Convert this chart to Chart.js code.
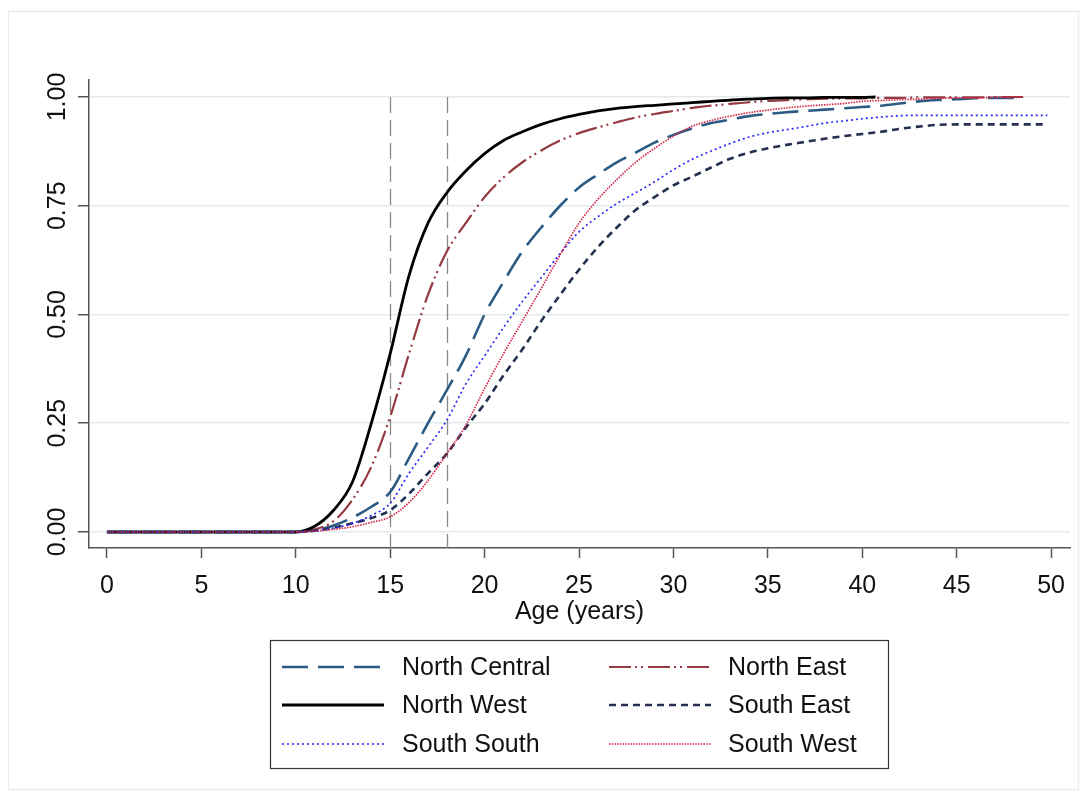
<!DOCTYPE html>
<html>
<head>
<meta charset="utf-8">
<title>Cumulative proportion by age and zone</title>
<script src="https://cdn.jsdelivr.net/npm/chart.js@4.4.1/dist/chart.umd.min.js"></script>
<style>
  html, body { margin: 0; padding: 0; background: #fff; }
  #wrap { position: relative; width: 1085px; height: 796px; }
</style>
</head>
<body>
<div id="wrap"><canvas id="cdfChart" width="1085" height="796"></canvas></div>
<script>
// --- data ---
const ages = [0, 10, 11, 12, 13, 14, 15, 16, 17, 18, 19, 20, 21, 22, 23, 24, 25, 26, 27, 28, 29, 30,
              31, 32, 33, 34, 35, 36, 37, 38, 39, 40, 41, 42, 43, 44, 45, 46, 47, 48, 49, 50];

const northCentral = [0, 0, 0.004, 0.015, 0.033, 0.058, 0.092, 0.17, 0.25, 0.326, 0.405, 0.50, 0.575, 0.645, 0.70, 0.75, 0.792, 0.822, 0.85, 0.872, 0.895, 0.913,
                      0.928, 0.94, 0.948, 0.956, 0.961, 0.965, 0.968, 0.971, 0.974, 0.977, 0.98, 0.985, 0.99, 0.993, 0.995, 0.997, 0.998, 0.998, 0.999, null];
const northEast = [0, 0, 0.006, 0.025, 0.074, 0.15, 0.265, 0.41, 0.545, 0.645, 0.71, 0.77, 0.815, 0.85, 0.877, 0.9, 0.917, 0.93, 0.942, 0.953, 0.961, 0.968,
                   0.975, 0.98, 0.984, 0.988, 0.991, 0.993, 0.995, 0.996, 0.997, 0.997, 0.998, 0.998, 0.999, 0.999, 0.999, 0.999, 1.0, 1.0, 1.0, null];
const northWest = [0, 0, 0.013, 0.05, 0.115, 0.25, 0.41, 0.59, 0.71, 0.78, 0.83, 0.87, 0.90, 0.92, 0.937, 0.95, 0.96, 0.968, 0.974, 0.978, 0.981, 0.984,
                   0.987, 0.99, 0.993, 0.995, 0.997, 0.998, 0.998, 0.999, 0.999, 0.999, 1.0, null, null, null, null, null, null, null, null, null];
const southEast = [0, 0, 0.003, 0.01, 0.02, 0.032, 0.05, 0.088, 0.135, 0.18, 0.24, 0.295, 0.36, 0.42, 0.485, 0.545, 0.603, 0.655, 0.70, 0.74, 0.77, 0.797,
                   0.817, 0.838, 0.858, 0.872, 0.882, 0.89, 0.897, 0.904, 0.91, 0.915, 0.92, 0.927, 0.932, 0.936, 0.937, 0.937, 0.937, 0.937, 0.937, 0.937];
const southSouth = [0, 0, 0.003, 0.009, 0.02, 0.038, 0.066, 0.135, 0.195, 0.257, 0.34, 0.405, 0.47, 0.53, 0.585, 0.64, 0.69, 0.725, 0.755, 0.78, 0.805, 0.833,
                    0.857, 0.876, 0.893, 0.908, 0.918, 0.925, 0.932, 0.94, 0.945, 0.95, 0.954, 0.957, 0.958, 0.958, 0.958, 0.958, 0.958, 0.958, 0.958, 0.958];
const southWest = [0, 0, 0.002, 0.006, 0.012, 0.022, 0.035, 0.068, 0.118, 0.18, 0.245, 0.33, 0.41, 0.485, 0.56, 0.637, 0.71, 0.765, 0.81, 0.85, 0.882, 0.91,
                   0.933, 0.946, 0.956, 0.964, 0.97, 0.975, 0.979, 0.982, 0.985, 0.99, 0.992, 0.994, 0.995, 0.997, 0.998, 0.998, 0.999, 0.999, 1.0, null];

const zoneNames = ['North Central', 'North East', 'North West', 'South East', 'South South', 'South West'];
const zoneValues = [northCentral, northEast, northWest, southEast, southSouth, southWest];
const endAges = [48.5, 48.7, 40.7, 49.8, 49.8, 48.5]; // last observed age per zone
const refAges = [15, 18];
const yTickValues = [0, 0.25, 0.5, 0.75, 1];

// --- styles ---
const FONT = "'Liberation Sans', Arial, Helvetica, sans-serif";
const zoneStyles = [
  { color: '#2b5b84', dash: [26, 10], width: 2.6 },
  { color: '#953a40', dash: [22, 4, 2, 4, 2, 5], width: 2.2 },
  { color: '#000000', dash: [], width: 2.8 },
  { color: '#24304f', dash: [7, 5], width: 2.6 },
  { color: '#2a2aff', dash: [2, 3], width: 1.7 },
  { color: '#d42848', dash: [1.5, 1.2], width: 1.7 }
];

function toPoints(values, endAge) {
  const pts = [];
  let last = 0;
  values.forEach((v, i) => {
    if (v === null) return;
    last = v;
    if (ages[i] < endAge) pts.push({ x: ages[i], y: v });
  });
  pts.push({ x: endAge, y: last });
  return pts;
}

const datasets = zoneNames.map((name, i) => ({
  label: name,
  data: toPoints(zoneValues[i], endAges[i]),
  borderColor: zoneStyles[i].color,
  borderDash: zoneStyles[i].dash,
  borderWidth: zoneStyles[i].width,
  pointRadius: 0,
  cubicInterpolationMode: 'monotone',
  fill: false,
  order: zoneNames.length - i
}));

// light frame round the graph region
const framePlugin = {
  id: 'frame',
  beforeDraw(chart) {
    const ctx = chart.ctx;
    ctx.save();
    ctx.fillStyle = '#fff';
    ctx.fillRect(0, 0, chart.width, chart.height);
    ctx.strokeStyle = '#e6edf1';
    ctx.lineWidth = 1.5;
    ctx.strokeRect(8.5, 11.5, 1070, 778);
    ctx.restore();
  }
};

// dashed reference lines at ages 15 and 18
const refLinePlugin = {
  id: 'refLines',
  beforeDatasetsDraw(chart) {
    const { ctx, chartArea, scales } = chart;
    ctx.save();
    ctx.strokeStyle = '#8a8a8a';
    ctx.lineWidth = 1.3;
    ctx.setLineDash([16, 7]);
    refAges.forEach(a => {
      const px = Math.round(scales.x.getPixelForValue(a)) + 0.5;
      ctx.beginPath();
      ctx.moveTo(px, scales.y.getPixelForValue(1));
      ctx.lineTo(px, chartArea.bottom);
      ctx.stroke();
    });
    ctx.restore();
  }
};

// vertical y tick labels, Stata style
const yLabelPlugin = {
  id: 'yLabels',
  afterDraw(chart) {
    const { ctx, scales } = chart;
    ctx.save();
    ctx.fillStyle = '#111';
    ctx.font = '25px ' + FONT;
    ctx.textAlign = 'center';
    ctx.textBaseline = 'middle';
    yTickValues.forEach(v => {
      const py = scales.y.getPixelForValue(v);
      ctx.save();
      ctx.translate(58, py);
      ctx.rotate(-Math.PI / 2);
      ctx.fillText(v.toFixed(2), 0, 0);
      ctx.restore();
    });
    ctx.restore();
  }
};

// two-column boxed legend below the axis
const legendPlugin = {
  id: 'boxLegend',
  afterDraw(chart) {
    const ctx = chart.ctx;
    const box = { left: 270, top: 640, right: 888, bottom: 768 };
    const rowY = [667, 705, 744];
    const sampleX = [282, 609];
    const textX = [402, 728];
    const sampleLen = 102;
    ctx.save();
    ctx.strokeStyle = '#333';
    ctx.lineWidth = 1.2;
    ctx.strokeRect(box.left + 0.5, box.top + 0.5, box.right - box.left, box.bottom - box.top);
    ctx.font = '25px ' + FONT;
    ctx.textBaseline = 'middle';
    ctx.textAlign = 'left';
    zoneNames.forEach((name, i) => {
      const row = Math.floor(i / 2), col = i % 2;
      const st = zoneStyles[i];
      ctx.beginPath();
      ctx.setLineDash(st.dash);
      ctx.strokeStyle = st.color;
      ctx.lineWidth = st.width;
      ctx.moveTo(sampleX[col], rowY[row]);
      ctx.lineTo(sampleX[col] + sampleLen, rowY[row]);
      ctx.stroke();
      ctx.setLineDash([]);
      ctx.fillStyle = '#111';
      ctx.fillText(name, textX[col], rowY[row] + 1);
    });
    ctx.restore();
  }
};

Chart.defaults.font.family = FONT;

new Chart(document.getElementById('cdfChart'), {
  type: 'line',
  data: { datasets },
  options: {
    responsive: false,
    animation: false,
    devicePixelRatio: 1,
    layout: { padding: { top: 80, right: 15, bottom: 168, left: 0 } },
    plugins: { legend: { display: false }, tooltip: { enabled: false } },
    scales: {
      x: {
        type: 'linear',
        min: -0.95,
        max: 51,
        border: { color: '#555', width: 1.5 },
        grid: { drawOnChartArea: false, drawTicks: true, tickLength: 10, tickColor: '#555', tickWidth: 1.5 },
        ticks: { stepSize: 5, includeBounds: false, autoSkip: false, maxRotation: 0, padding: 13, color: '#111', font: { size: 25 } },
        title: { display: true, text: 'Age (years)', color: '#111', font: { size: 25 }, padding: { top: 0, bottom: 1 } },
        afterFit(scale) { scale.height = 80; }
      },
      y: {
        type: 'linear',
        min: -0.0368,
        max: 1.0391,
        border: { color: '#555', width: 1.5 },
        grid: { color: '#e1ebee', lineWidth: 1.5, tickLength: 11, tickColor: '#555', tickWidth: 1.5 },
        ticks: { stepSize: 0.25, includeBounds: false, display: false },
        afterFit(scale) { scale.width = 89; }
      }
    }
  },
  plugins: [framePlugin, refLinePlugin, yLabelPlugin, legendPlugin]
});
</script>
</body>
</html>
